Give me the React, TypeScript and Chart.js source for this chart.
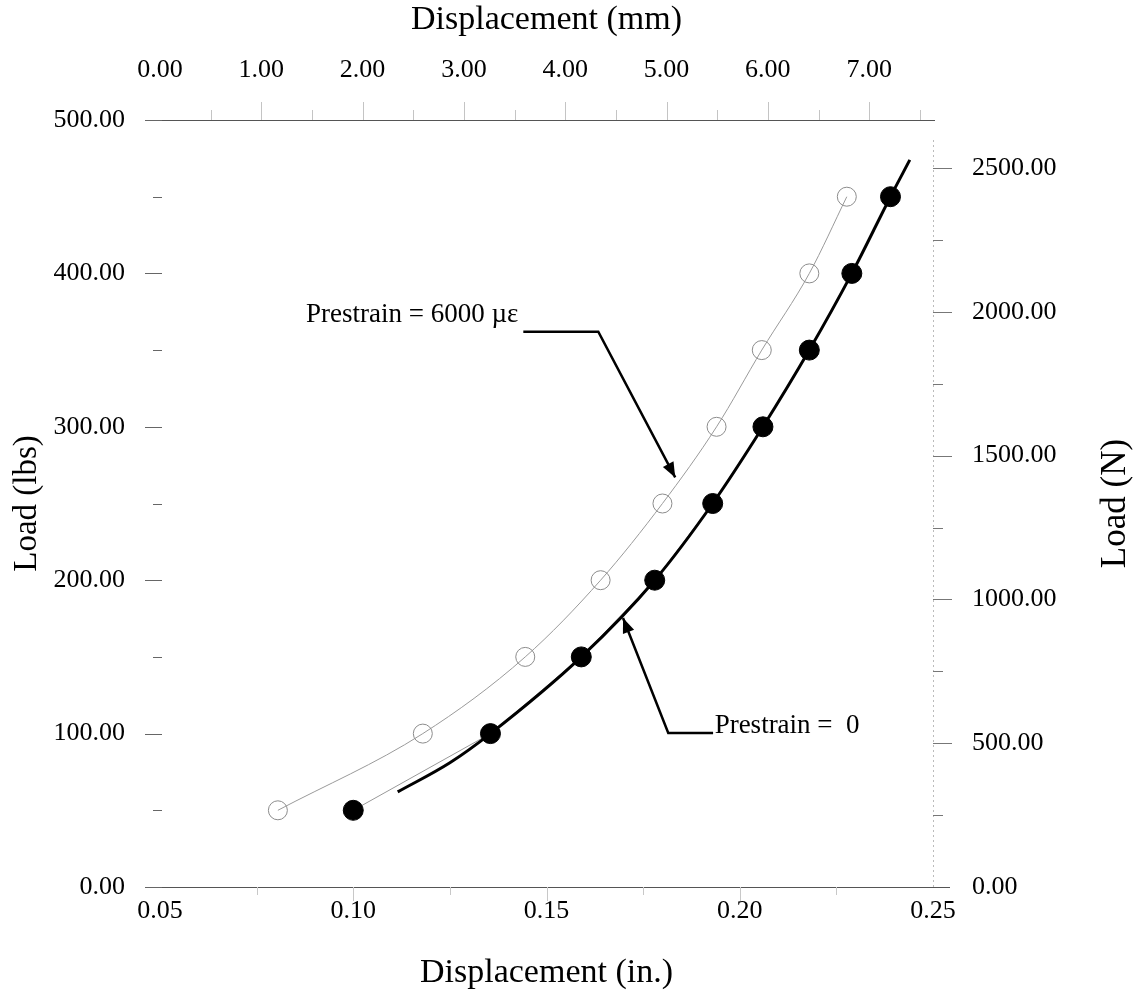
import React, { useEffect, useRef } from 'react';
import { Chart, registerables } from 'chart.js';

Chart.register(...registerables);

// ---- data ----
const loadLevels = [50, 100, 150, 200, 250, 300, 350, 400, 450];
const dispPrestrain0 = [0.1, 0.1355, 0.159, 0.178, 0.193, 0.206, 0.218, 0.229, 0.239];
const dispPrestrain6000 = [0.0805, 0.118, 0.1445, 0.164, 0.18, 0.194, 0.2057, 0.218, 0.2277];
const fitDisp0 = [0.1115, 0.125, 0.1355, 0.159, 0.178, 0.193, 0.206, 0.218, 0.229, 0.239, 0.244];
const fitLoad0 = [62, 81, 100, 150, 200, 250, 300, 350, 400, 450, 474];

const inchTicks = [0.05, 0.1, 0.15, 0.2, 0.25];
const mmTicks = [0, 1, 2, 3, 4, 5, 6, 7];
const lbsTicks = [0, 100, 200, 300, 400, 500];
const newtonTicks = [0, 500, 1000, 1500, 2000, 2500];

const noteText = ['Prestrain = 6000 \u00b5\u03b5', 'Prestrain =  0'];
const noteTextX = [0.1427, 0.1935];
const noteTextY = [373, 105];
const noteAlign = ['right', 'left'];
const notePathX = [
  [0.144, 0.1634, 0.1833],
  [0.1931, 0.1815, 0.1698],
];
const notePathY = [
  [362, 362, 267],
  [100.4, 100.4, 175.4],
];

const SERIF = '"Liberation Serif", "Times New Roman", serif';

const pts = (xs: number[], ys: number[]) => xs.map((x, i) => ({ x, y: ys[i] }));

const framePlugin = {
  id: 'frame',
  beforeDatasetsDraw(chart: any) {
    const { ctx, chartArea, scales } = chart;
    const { left, right, top, bottom } = chartArea;
    ctx.save();
    // horizontal axis lines
    ctx.strokeStyle = '#555';
    ctx.lineWidth = 1.2;
    ctx.beginPath();
    ctx.moveTo(left - 15, top + 0.5);
    ctx.lineTo(right + 2, top + 0.5);
    ctx.moveTo(left - 15, bottom + 0.5);
    ctx.lineTo(right + 17, bottom + 0.5);
    ctx.stroke();

    // left ticks
    ctx.strokeStyle = '#666';
    ctx.lineWidth = 1;
    ctx.beginPath();
    for (let v = 0; v <= 500; v += 50) {
      const y = Math.round(scales.y.getPixelForValue(v)) + 0.5;
      const major = v % 100 === 0;
      ctx.moveTo(left - (major ? 15 : 7), y);
      ctx.lineTo(left + 2, y);
    }
    ctx.stroke();

    // right dotted axis line
    ctx.strokeStyle = '#bbb';
    ctx.setLineDash([2, 3]);
    ctx.beginPath();
    ctx.moveTo(right + 0.5, bottom);
    ctx.lineTo(right + 0.5, scales.y2.getPixelForValue(2600));
    ctx.stroke();
    ctx.setLineDash([]);

    // right ticks
    ctx.strokeStyle = '#777';
    ctx.beginPath();
    for (let v = 250; v <= 2500; v += 250) {
      const y = Math.round(scales.y2.getPixelForValue(v)) + 0.5;
      const major = v % 500 === 0;
      ctx.moveTo(right, y);
      ctx.lineTo(right + (major ? 19 : 10), y);
    }
    ctx.stroke();

    // top ticks (mm)
    ctx.strokeStyle = '#c4c4c4';
    ctx.beginPath();
    for (let v = 0.5; v <= 7.5; v += 0.5) {
      const x = Math.round(scales.x2.getPixelForValue(v)) + 0.5;
      const major = Math.abs(v - Math.round(v)) < 1e-6;
      ctx.moveTo(x, top);
      ctx.lineTo(x, top - (major ? 18 : 10));
    }
    ctx.stroke();

    // bottom ticks (in.)
    ctx.strokeStyle = '#c8c8c8';
    ctx.beginPath();
    for (let i = 1; i < 8; i++) {
      const v = 0.05 + i * 0.025;
      const x = Math.round(scales.x.getPixelForValue(v)) + 0.5;
      const major = i % 2 === 0;
      ctx.moveTo(x, bottom);
      ctx.lineTo(x, bottom + (major ? 14 : 8));
    }
    ctx.stroke();
    ctx.restore();
  },
  afterDatasetsDraw(chart: any) {
    const { ctx, scales, chartArea } = chart;
    ctx.save();
    // annotations
    ctx.font = `27px ${SERIF}`;
    ctx.fillStyle = '#000';
    ctx.textBaseline = 'middle';
    noteText.forEach((t, k) => {
      ctx.textAlign = noteAlign[k];
      ctx.fillText(t, scales.x.getPixelForValue(noteTextX[k]), scales.y.getPixelForValue(noteTextY[k]));
      const px = notePathX[k].map((v) => scales.x.getPixelForValue(v));
      const py = notePathY[k].map((v) => scales.y.getPixelForValue(v));
      ctx.strokeStyle = '#000';
      ctx.lineWidth = 2.5;
      ctx.beginPath();
      ctx.moveTo(px[0], py[0]);
      for (let i = 1; i < px.length; i++) ctx.lineTo(px[i], py[i]);
      ctx.stroke();
      const n = px.length - 1;
      const ang = Math.atan2(py[n] - py[n - 1], px[n] - px[n - 1]);
      const L = 15, W = 6;
      ctx.beginPath();
      ctx.moveTo(px[n], py[n]);
      ctx.lineTo(px[n] - L * Math.cos(ang) + W * Math.sin(ang), py[n] - L * Math.sin(ang) - W * Math.cos(ang));
      ctx.lineTo(px[n] - L * Math.cos(ang) - W * Math.sin(ang), py[n] - L * Math.sin(ang) + W * Math.cos(ang));
      ctx.closePath();
      ctx.fill();
    });
    // right axis title (reads bottom-to-top)
    ctx.font = `35px ${SERIF}`;
    ctx.textAlign = 'center';
    ctx.translate(1116, (chartArea.top + chartArea.bottom) / 2);
    ctx.rotate(-Math.PI / 2);
    ctx.fillText('Load (N)', 0, 0);
    ctx.restore();
  },
};

export default function App() {
  const ref = useRef<HTMLCanvasElement | null>(null);
  useEffect(() => {
    if (!ref.current) return;
    const setTicks = (vals: number[]) => (scale: any) => {
      scale.ticks = vals.map((value) => ({ value }));
    };
    const tickFont = { family: SERIF, size: 26 };
    const fmt = (v: any) => Number(v).toFixed(2);
    const chart = new Chart(ref.current, {
      type: 'scatter',
      data: {
        datasets: [
          {
            label: 'Prestrain = 6000',
            data: pts(dispPrestrain6000, loadLevels),
            showLine: true,
            cubicInterpolationMode: 'monotone',
            borderColor: '#9a9a9a',
            borderWidth: 1,
            pointRadius: 9.5,
            pointBorderColor: '#8c8c8c',
            pointBorderWidth: 1,
            pointBackgroundColor: 'rgba(255,255,255,0)',
            order: 4,
          },
          {
            label: 'Prestrain = 0 (link)',
            data: pts(dispPrestrain0, loadLevels),
            showLine: true,
            borderColor: '#999',
            borderWidth: 1,
            pointRadius: 0,
            order: 3,
          },
          {
            label: 'Prestrain = 0 fit',
            data: pts(fitDisp0, fitLoad0),
            showLine: true,
            cubicInterpolationMode: 'monotone',
            borderColor: '#000',
            borderWidth: 3,
            pointRadius: 0,
            order: 2,
          },
          {
            label: 'Prestrain = 0',
            data: pts(dispPrestrain0, loadLevels),
            showLine: false,
            pointRadius: 10,
            pointBackgroundColor: '#000',
            pointBorderColor: '#000',
            pointBorderWidth: 1,
            order: 1,
          },
        ],
      } as any,
      options: {
        animation: false,
        responsive: false,
        maintainAspectRatio: false,
        layout: { padding: 0 },
        plugins: { legend: { display: false }, tooltip: { enabled: false } },
        scales: {
          x: {
            type: 'linear',
            position: 'bottom',
            min: 0.05,
            max: 0.25,
            afterBuildTicks: setTicks(inchTicks),
            afterFit: (s: any) => { s.height = 109; },
            grid: { display: false, drawTicks: false },
            border: { display: false },
            ticks: { padding: 9, color: '#000', font: tickFont, callback: fmt },
            title: { display: true, text: 'Displacement (in.)', color: '#000', font: { family: SERIF, size: 34 }, padding: { top: 0, bottom: 3 } },
          },
          x2: {
            type: 'linear',
            position: 'top',
            min: 0,
            max: 7.63,
            afterBuildTicks: setTicks(mmTicks),
            afterFit: (s: any) => { s.height = 120; },
            grid: { display: false, drawTicks: false },
            border: { display: false },
            ticks: { padding: 34, color: '#000', font: tickFont, callback: fmt },
            title: { display: true, text: 'Displacement (mm)', color: '#000', font: { family: SERIF, size: 34 }, padding: { top: 0, bottom: 0 } },
          },
          y: {
            type: 'linear',
            position: 'left',
            min: 0,
            max: 500,
            afterBuildTicks: setTicks(lbsTicks),
            afterFit: (s: any) => { s.width = 160; },
            grid: { display: false, drawTicks: false },
            border: { display: false },
            ticks: { padding: 35, color: '#000', font: tickFont, callback: fmt },
            title: { display: true, text: 'Load (lbs)', color: '#000', font: { family: SERIF, size: 33 }, padding: { top: 8, bottom: 0 } },
          },
          y2: {
            type: 'linear',
            position: 'right',
            min: 0,
            max: 2667,
            afterBuildTicks: setTicks(newtonTicks),
            afterFit: (s: any) => { s.width = 211; },
            grid: { display: false, drawTicks: false },
            border: { display: false },
            ticks: { padding: 39, color: '#000', font: tickFont, callback: fmt },
          },
        },
      } as any,
      plugins: [framePlugin],
    });
    return () => chart.destroy();
  }, []);
  return (
    <div style={{ position: 'fixed', left: 0, top: 0, width: 1144, height: 996, background: '#fff' }}>
      <canvas ref={ref} width={1144} height={996} style={{ width: 1144, height: 996, display: 'block' }} />
    </div>
  );
}
